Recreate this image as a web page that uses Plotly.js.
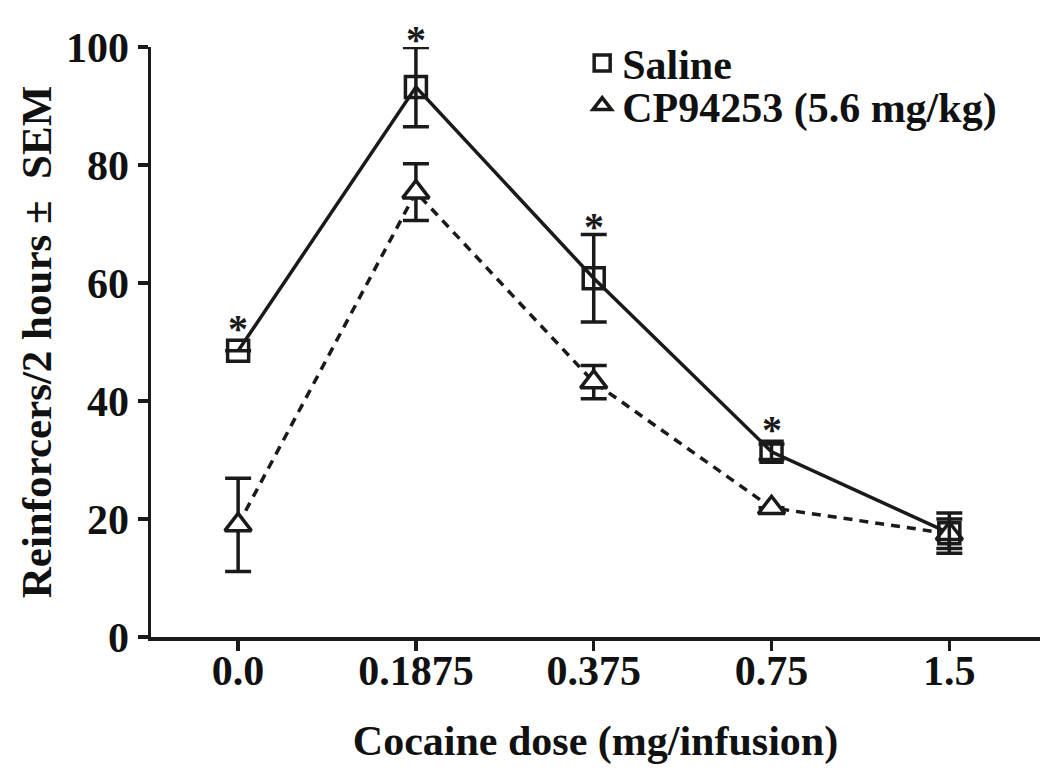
<!DOCTYPE html>
<html>
<head>
<meta charset="utf-8">
<script src="https://cdn.plot.ly/plotly-3.0.1.min.js"></script>
<style>
  html, body { margin: 0; padding: 0; background: #fff; }
  #chart { width: 1050px; height: 772px; }
</style>
</head>
<body>
<div id="chart"></div>
<script>
// cocaine doses (categories on the x axis)
var doses = ["0.0", "0.1875", "0.375", "0.75", "1.5"];

// reinforcers per 2 hours
var salineMean = [48.5, 93.2, 60.8, 31.4, 17.6];
var salineSem = [0, 6.7, 7.4, 1.3, 3.4];
var cpMean = [19.0, 75.4, 43.2, 21.9, 17.5];
var cpSem = [7.9, 4.8, 2.8, 0, 2.5];

// doses where saline differs from CP94253
var significant = [true, true, true, true, false];

var font = {family: "Liberation Serif, Times New Roman, serif", size: 42, color: "#111", weight: "bold"};
var ink = "#1a1a1a";

// line traces (no legend), then marker traces with error bars on top
var salineLine = {
    x: doses, y: salineMean, type: "scatter", mode: "lines",
    line: {color: ink, width: 3.5}, showlegend: false, hoverinfo: "skip"
};
var cpLine = {
    x: doses, y: cpMean, type: "scatter", mode: "lines",
    line: {color: ink, width: 3.5, dash: "9px,7px"}, showlegend: false, hoverinfo: "skip"
};
var cp = {
    x: doses, y: cpMean, type: "scatter", mode: "markers", name: "CP94253 (5.6 mg/kg)",
    legend: "legend2",
    marker: {symbol: "triangle-up", size: 23, color: "#fff", line: {color: ink, width: 3.5}},
    error_y: {type: "data", array: cpSem, visible: true, color: ink, thickness: 3.5, width: 13},
    cliponaxis: false
};
var saline = {
    x: doses, y: salineMean, type: "scatter", mode: "markers", name: "Saline",
    legend: "legend",
    marker: {symbol: "square", size: 21, color: "rgba(255,255,255,0)", line: {color: ink, width: 3.5}},
    error_y: {type: "data", array: salineSem, visible: true, color: ink, thickness: 3.5, width: 13},
    cliponaxis: false
};

// asterisks over the saline points (x given as category index);
// they sit over the error cap when it shows, otherwise over the marker
var stars = [];
doses.forEach(function (d, i) {
    if (significant[i]) {
        var capShows = salineSem[i] > 2;
        stars.push({
            x: i, y: capShows ? salineMean[i] + salineSem[i] : salineMean[i],
            xref: "x", yref: "y",
            text: "*", showarrow: false, yanchor: "bottom", yshift: capShows ? -16 : -2,
            font: {family: font.family, size: 40, color: ink}
        });
    }
});

var legendBox = {
    xanchor: "left", yanchor: "top", font: font,
    bgcolor: "rgba(0,0,0,0)", itemwidth: 30
};

var layout = {
    width: 1050,
    height: 772,
    margin: {l: 151, r: 10, t: 47, b: 135},
    paper_bgcolor: "#fff",
    plot_bgcolor: "#fff",
    font: font,
    showlegend: true,
    legend: Object.assign({x: 0.485, y: 1.03}, legendBox),
    legend2: Object.assign({x: 0.485, y: 0.958}, legendBox),
    xaxis: {
        type: "category",
        range: [-0.49, 4.51],
        showline: true, linewidth: 3.5, linecolor: ink,
        ticks: "outside", ticklen: 10, tickwidth: 3.5, tickcolor: ink,
        ticklabelstandoff: -16,
        showgrid: false, zeroline: false,
        tickfont: font,
        title: {text: "Cocaine dose (mg/infusion)", font: font, standoff: 33}
    },
    yaxis: {
        range: [0, 100],
        tickvals: [0, 20, 40, 60, 80, 100],
        showline: true, linewidth: 3.5, linecolor: ink,
        ticks: "outside", ticklen: 10, tickwidth: 3.5, tickcolor: ink,
        showgrid: false, zeroline: false,
        tickfont: font,
        title: {text: "Reinforcers/2 hours \u00b1  SEM", font: Object.assign({}, font, {size: 43}), standoff: 2}
    },
    annotations: stars
};

Plotly.newPlot("chart", [salineLine, cpLine, cp, saline], layout, {displayModeBar: false, staticPlot: true});
</script>
</body>
</html>
